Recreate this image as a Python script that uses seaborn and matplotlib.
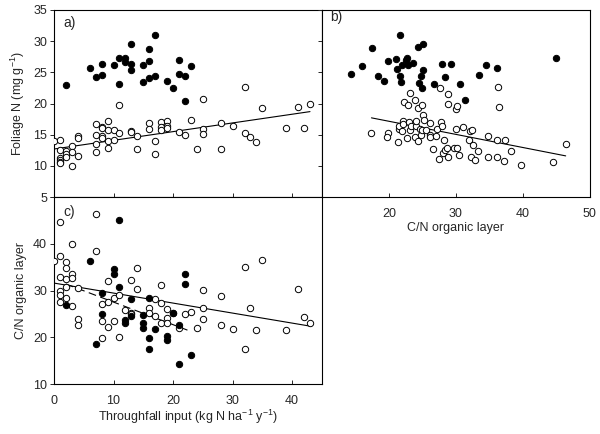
import numpy as np
import pandas as pd
import matplotlib
matplotlib.use("Agg")
import matplotlib.pyplot as plt
import seaborn as sns

# panel a: throughfall input vs foliage N
tf_a_filled = [2, 6, 7, 8, 8, 10, 11, 11, 12, 12, 13, 13, 13, 15, 15, 16, 16, 16, 17, 17, 19, 20, 21, 21, 22, 22, 23]
fn_a_filled = [23.0, 25.7, 24.3, 26.3, 24.5, 26.1, 27.3, 23.1, 27.3, 26.6, 29.5, 26.3, 25.3, 26.1, 23.4, 28.8,
               26.8, 24.1, 31.0, 24.4, 23.6, 22.5, 26.9, 24.8, 24.4, 20.4, 26.0]
tf_a_open = [0, 1, 1, 1, 1, 1, 1, 2, 2, 2, 3, 3, 3, 4, 4, 4, 7, 7, 7, 7, 8, 8, 8, 8, 9, 9, 9, 9, 10, 10, 11, 11,
             13, 13, 14, 14, 16, 16, 17, 17, 18, 18, 18, 19, 19, 19, 21, 22, 23, 24, 25, 25, 25, 28, 28, 30,
             32, 32, 33, 34, 35, 39, 41, 42, 43]
fn_a_open = [14.0, 14.1, 12.6, 11.2, 10.9, 10.6, 10.4, 12.4, 11.9, 11.5, 13.2, 12.3, 10.0, 14.8, 14.4, 11.6,
             16.7, 14.9, 13.5, 12.3, 16.3, 16.1, 14.8, 14.5, 17.2, 15.7, 14.0, 12.8, 15.7, 14.1, 19.8, 15.2,
             15.6, 15.4, 14.8, 12.7, 16.8, 15.9, 14.0, 11.9, 17.0, 16.2, 15.8, 17.2, 16.4, 16.0, 15.5, 15.0,
             17.3, 12.7, 20.7, 15.9, 15.1, 16.9, 12.7, 16.4, 22.6, 15.3, 14.6, 13.9, 19.3, 16.0, 19.5, 16.1, 19.9]
fit_a_x = [0, 43]
fit_a_y = [12.7, 18.7]

# panel b: C/N organic layer vs foliage N
cn_b_filled = [14.3, 16.0, 17.5, 18.4, 19.3, 19.9, 21.1, 21.2, 21.6, 21.7, 21.8, 22.0, 22.6, 22.7, 22.8, 23.6,
               24.3, 24.55, 24.75, 25.05, 25.1, 25.0, 26.8, 27.9, 28.4, 29.3, 30.6, 31.3, 33.5, 34.55, 36.2, 45.0]
fn_b_filled = [24.8, 26.0, 28.85, 24.4, 23.6, 26.8, 27.2, 25.5, 31.0, 24.4, 23.45, 26.2, 27.0, 27.35, 26.1, 26.55,
               29.0, 23.35, 24.4, 29.5, 25.3, 22.5, 23.1, 26.3, 24.2, 26.3, 23.1, 20.5, 24.5, 26.2, 25.75, 27.35]
cn_b_open = [17.3, 19.9, 19.75, 21.4, 21.5, 21.5, 21.9, 22.1, 22.1, 22.2, 22.7, 22.9, 23.0, 23.1, 23.2, 23.3,
             23.9, 23.9, 24.0, 24.0, 24.3, 24.4, 24.6, 24.8, 24.95, 25.05, 25.2, 24.95, 25.6, 26.1, 26.2, 26.2,
             26.6, 27.1, 27.2, 27.5, 27.6, 27.8, 28.0, 28.1, 28.3, 28.4, 28.7, 28.9, 28.9, 28.9, 29.65, 29.95,
             30.0, 30.1, 30.2, 30.5, 31.0, 31.9, 32.1, 32.4, 32.3, 32.6, 32.8, 33.3, 34.75, 34.75, 36.1, 36.1,
             36.3, 36.4, 37.3, 37.2, 38.3, 39.75, 44.5, 46.4]
fn_b_open = [15.3, 15.3, 14.6, 13.9, 15.9, 16.4, 15.6, 17.25, 16.7, 20.2, 14.5, 19.8, 17.1, 21.7, 15.75, 16.4,
             20.6, 14.7, 16.4, 17.25, 19.2, 14.0, 15.9, 14.95, 19.7, 18.1, 17.35, 15.75, 15.75, 16.8, 14.9, 14.6,
             12.7, 14.85, 15.85, 11.15, 22.5, 17.0, 16.45, 12.05, 14.2, 12.5, 12.85, 21.5, 19.9, 11.35, 12.8, 15.85,
             19.1, 19.55, 12.9, 11.8, 16.2, 14.15, 15.6, 15.8, 11.5, 13.3, 11.0, 12.35, 14.85, 11.45, 14.15, 11.45,
             22.7, 19.4, 14.15, 10.8, 12.4, 10.1, 10.55, 13.55]
fit_b_x = [17.4, 46.4]
fit_b_y = [17.7, 11.6]

# panel c: throughfall input vs C/N organic layer
tf_c_filled = [2, 6, 7, 8, 8, 10, 10, 11, 11, 12, 12, 13, 13, 15, 15, 15, 16, 16, 16, 17, 19, 19, 20, 21, 21, 22, 22, 23]
cn_c_filled = [27.0, 36.4, 18.5, 29.4, 25.0, 34.6, 33.5, 45.1, 30.8, 23.8, 23.1, 28.1, 24.5, 24.7, 23.1, 22.0,
               28.5, 19.9, 17.6, 21.8, 20.2, 19.4, 25.1, 22.7, 14.4, 33.6, 31.5, 16.2]
tf_c_open = [0, 1, 1, 1, 1, 1, 1, 2, 2, 2, 2, 2, 3, 3, 3, 3, 4, 4, 4, 7, 7, 8, 8, 8, 9, 9, 9, 10, 10, 11, 11,
             12, 13, 13, 13, 14, 14, 16, 16, 17, 17, 18, 18, 18, 19, 19, 19, 20, 21, 22, 23, 24, 25, 25, 25,
             28, 28, 30, 32, 32, 33, 34, 35, 39, 41, 42, 43]
cn_c_open = [36.3, 44.6, 37.4, 32.9, 30.0, 29.0, 27.6, 36.1, 34.9, 32.4, 30.8, 28.5, 39.9, 33.5, 32.6, 26.7,
             30.6, 24.0, 22.7, 46.4, 38.4, 27.2, 23.4, 19.9, 32.0, 27.6, 22.2, 28.4, 23.4, 29.1, 20.0,
             25.8, 32.3, 25.2, 24.9, 34.9, 30.4, 26.3, 25.2, 28.1, 24.5, 31.1, 27.4, 23.1, 26.1, 24.2, 23.1,
             25.2, 22.0, 25.0, 25.4, 22.0, 30.1, 26.2, 24.0, 28.9, 22.6, 21.7, 35.0, 17.4, 26.2, 21.6, 36.6,
             21.6, 30.4, 24.3, 23.1]
fit_c_x = [0, 43]
fit_c_y = [31.6, 22.4]
fit_c_dash_x = [2, 22.5]
fit_c_dash_y = [31.4, 21.5]


def scatter_pair(ax, xf, yf, xo, yo):
    sns.scatterplot(x=xo, y=yo, ax=ax, s=21, color='white', edgecolor='black', linewidth=0.7, zorder=3)
    sns.scatterplot(x=xf, y=yf, ax=ax, s=21, color='black', edgecolor='black', linewidth=0.7, zorder=4)


sns.set_style("ticks")
plt.rcParams['font.family'] = ['Liberation Sans', 'DejaVu Sans']
plt.rcParams['mathtext.default'] = 'regular'
plt.rcParams['font.size'] = 9

fig = plt.figure(figsize=(6, 4.34), dpi=100)
gs = fig.add_gridspec(2, 2, left=0.09, right=0.983, top=0.977, bottom=0.115, wspace=0, hspace=0)
ax_a = fig.add_subplot(gs[0, 0])
ax_b = fig.add_subplot(gs[0, 1])
ax_c = fig.add_subplot(gs[1, 0])

scatter_pair(ax_a, tf_a_filled, fn_a_filled, tf_a_open, fn_a_open)
sns.lineplot(x=fit_a_x, y=fit_a_y, ax=ax_a, color='black', linewidth=0.8)

scatter_pair(ax_b, cn_b_filled, fn_b_filled, cn_b_open, fn_b_open)
sns.lineplot(x=fit_b_x, y=fit_b_y, ax=ax_b, color='black', linewidth=0.8)

scatter_pair(ax_c, tf_c_filled, cn_c_filled, tf_c_open, cn_c_open)
sns.lineplot(x=fit_c_x, y=fit_c_y, ax=ax_c, color='black', linewidth=0.8)
sns.lineplot(x=fit_c_dash_x, y=fit_c_dash_y, ax=ax_c, color='black', linewidth=0.8)
ax_c.lines[-1].set_dashes((7, 4))

# axes limits and ticks
ax_a.set_xlim(0, 45)
ax_a.set_ylim(5, 35)
ax_a.set_xticks([0, 10, 20, 30, 40])
ax_a.set_xticklabels([])
ax_a.set_yticks([5, 10, 15, 20, 25, 30, 35])
ax_a.set_ylabel('Foliage N (mg g$^{-1}$)', fontsize=9)

ax_b.set_xlim(10, 50)
ax_b.set_ylim(5, 35)
ax_b.set_xticks([10, 20, 30, 40, 50])
ax_b.set_xticklabels(['', '20', '30', '40', '50'])
ax_b.set_yticks([5, 10, 15, 20, 25, 30, 35])
ax_b.set_yticklabels([])
ax_b.set_xlabel('C/N organic layer', fontsize=9, labelpad=1)

ax_c.set_xlim(0, 45)
ax_c.set_ylim(10, 50)
ax_c.set_xticks([0, 10, 20, 30, 40])
ax_c.set_yticks([10, 20, 30, 40, 50])
ax_c.set_yticklabels(['10', '20', '30', '40', ''])
ax_c.set_ylabel('C/N organic layer', fontsize=9)
ax_c.set_xlabel('Throughfall input (kg N ha$^{-1}$ y$^{-1}$)', fontsize=9, labelpad=0.5)

for ax in (ax_a, ax_b, ax_c):
    for sp in ax.spines.values():
        sp.set_visible(True)
        sp.set_linewidth(0.8)
        sp.set_color('black')
    ax.tick_params(axis='x', direction='in', length=3, width=0.7, labelsize=9, pad=8)
    ax.tick_params(axis='y', direction='out', length=3, width=0.7, labelsize=9, pad=2)

ax_a.text(0.034, 0.93, 'a)', transform=ax_a.transAxes, fontsize=10, va='center')
ax_b.text(0.03, 0.96, 'b)', transform=ax_b.transAxes, fontsize=10, va='center')
ax_c.text(0.034, 0.92, 'c)', transform=ax_c.transAxes, fontsize=10, va='center')

fig.savefig('out.png', dpi=100)
